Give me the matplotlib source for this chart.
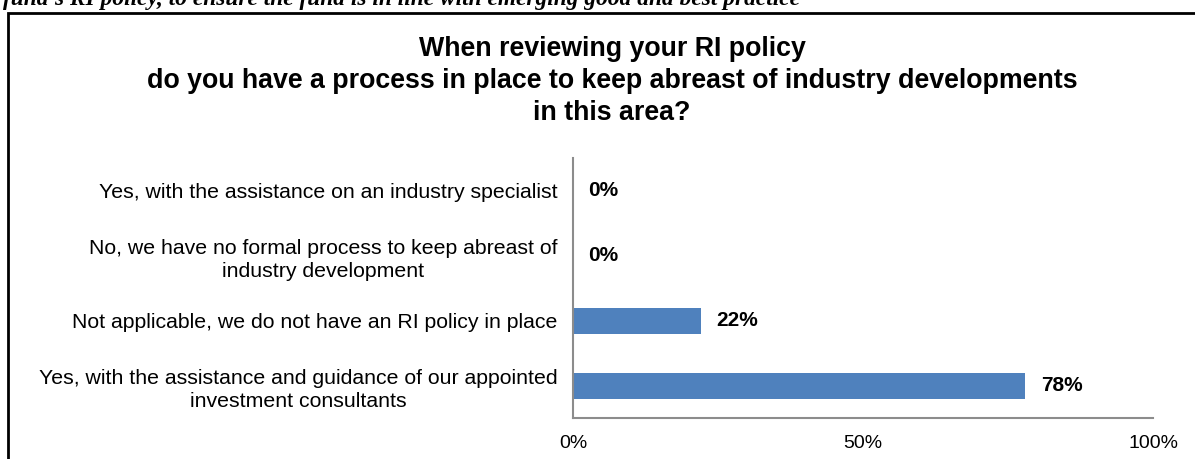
import matplotlib
matplotlib.use("Agg")
import matplotlib.pyplot as plt
from matplotlib.patches import Rectangle
from matplotlib import font_manager as fm

plt.rcParams['font.family'] = ['Liberation Sans', 'DejaVu Sans']

# regular-width bold face for the title (avoid the Narrow variant)
_bold = [f for f in fm.findSystemFonts() if f.endswith('LiberationSans-Bold.ttf')]
bold_fp = fm.FontProperties(fname=_bold[0]) if _bold else fm.FontProperties(family='Liberation Sans', weight='bold')

categories = [
    "Yes, with the assistance on an industry specialist",
    "No, we have no formal process to keep abreast of\nindustry development",
    "Not applicable, we do not have an RI policy in place",
    "Yes, with the assistance and guidance of our appointed\ninvestment consultants",
]
values = [0, 0, 22, 78]
xticks = [0, 50, 100]
xtick_labels = ["0%", "50%", "100%"]

title = ("When reviewing your RI policy\n"
         "do you have a process in place to keep abreast of industry developments\n"
         "in this area?")
header = "fund's RI policy, to ensure the fund is in line with emerging good and best practice"

W, H = 1195, 459
fig = plt.figure(figsize=(W / 100, H / 100), dpi=100)

# page heading running above the chart frame
fig.text(3 / W, 1 - 5 / H, header, family='Liberation Serif', style='italic',
         weight='bold', fontsize=16.8, ha='left', va='baseline')

# chart frame
fig.patches.append(Rectangle((8 / W, -0.1), 1.2, 1 - 13 / H + 0.1,
                             transform=fig.transFigure, fill=False,
                             edgecolor='black', linewidth=2, zorder=0))

tfp = bold_fp.copy()
tfp.set_size(19.3)
fig.text(612 / W, 1 - 36 / H, title, ha='center', va='top', fontproperties=tfp,
         linespacing=1.29)

ax = fig.add_axes([573 / W, 1 - 418 / H, 580 / W, 260 / H])
ypos = list(range(len(categories)))
ax.barh(ypos, values, height=0.4, color='#4F81BD')
ax.set_ylim(len(categories) - 0.5, -0.5)
ax.set_xlim(0, 100)

vfp = bold_fp.copy()
vfp.set_size(15)
for y, v in zip(ypos, values):
    ax.annotate(f"{v}%", (v, y), xytext=(11, 0), textcoords='offset points',
                ha='left', va='center', fontproperties=vfp)

ax.set_yticks(ypos)
ax.set_yticklabels(categories, fontsize=15.3, multialignment='center',
                   linespacing=1.3)
ax.set_xticks(xticks)
ax.set_xticklabels(xtick_labels, fontsize=14)
ax.tick_params(axis='both', length=0)
ax.tick_params(axis='y', pad=11)
ax.tick_params(axis='x', pad=12)

for s in ['top', 'right']:
    ax.spines[s].set_visible(False)
for s in ['left', 'bottom']:
    ax.spines[s].set_color('#8C8C8C')
    ax.spines[s].set_linewidth(1.5)

fig.savefig("out.png", dpi=100)
